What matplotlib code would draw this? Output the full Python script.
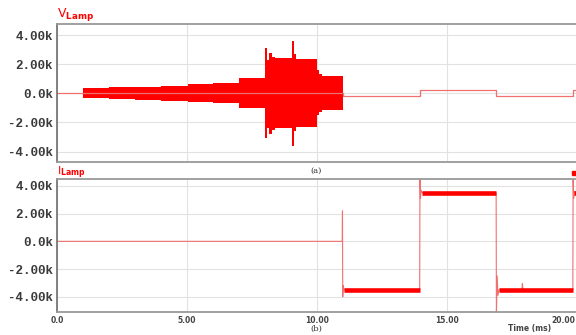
import numpy as np
import matplotlib
matplotlib.use('Agg')
from matplotlib import pyplot as plt
from matplotlib.lines import Line2D
from matplotlib.transforms import offset_copy

# lamp voltage (kV): envelope of the fast oscillation, step edges in ms
v_env_t = [1.0, 2.0, 3.0, 4.0, 5.05, 6.0, 7.0, 8.0, 8.07, 8.15, 8.25, 8.4, 9.02, 9.1, 9.2, 10.0, 10.08, 10.2, 11.0]
v_env_hi = [0.35, 0.4, 0.45, 0.5, 0.63, 0.7, 1.03, 3.1, 2.3, 2.8, 2.5, 2.4, 3.6, 2.7, 2.35, 1.6, 1.35, 1.2, 1.2]
v_env_lo = [-0.35, -0.4, -0.45, -0.5, -0.63, -0.7, -1.03, -3.1, -2.4, -2.8, -2.5, -2.4, -3.6, -2.6, -2.3, -1.5, -1.3, -1.15, -1.15]
# lamp voltage (kV): slow level outside the oscillating part
v_line_t = [0, 1.0, 11.0, 13.96, 16.9, 19.85, 20.05]
v_line_v = [0, 0, -0.2, 0.25, -0.2, 0.25, 0.25]

# lamp current (k): thin trace with edges and spikes
i_t = [0, 10.97, 10.98, 10.99, 11.01, 11.04, 13.95, 13.96, 13.98, 14.0, 14.05, 16.89, 16.9,
       16.93, 16.96, 17.0, 17.88, 17.9, 17.92, 19.84, 19.85, 19.87, 19.9, 20.05]
i_v = [0, 0, 2.2, -4.0, -3.2, -3.5, -3.5, 4.8, 3.1, 3.7, 3.5, 3.5, -5.3,
       -2.5, -3.9, -3.5, -3.5, -3.05, -3.5, -3.5, 4.6, 3.1, 3.6, 3.5]
# lamp current (k): thick ripple bands
band_t0 = [11.04, 14.05, 17.0, 19.9]
band_t1 = [13.95, 16.89, 19.84, 20.05]
band_v = [-3.5, 3.5, -3.5, 3.5]

y_ticks = [4, 2, 0, -2, -4]
y_labels = ['4.00k', '2.00k', '0.0k', '-2.00k', '-4.00k']
x_ticks = [0, 5, 10, 15, 20]
x_labels = ['0.0', '5.00', '10.00', '15.00', '20.00']

W, H = 576, 335


def rect(x0, y0, x1, y1):
    return [x0 / W, 1 - y1 / H, (x1 - x0) / W, (y1 - y0) / H]


def style(ax, ylim):
    ax.set_xlim(0, 20)
    ax.set_ylim(*ylim)
    ax.set_xticks(x_ticks)
    ax.set_yticks(y_ticks)
    ax.set_yticklabels(y_labels, family='Liberation Mono', fontweight='bold',
                       fontsize=9, color='#3a3a3a')
    ax.tick_params(length=0, pad=3)
    ax.grid(True, color='#e2e2e2', lw=0.8)
    ax.set_axisbelow(True)
    for s in ax.spines.values():
        s.set_color('#999999')
        s.set_linewidth(1.3)
    ax.spines['left'].set_color('#777777')


fig = plt.figure(figsize=(5.76, 3.35), dpi=100)
ax1 = fig.add_axes(rect(57, 24, 577, 162))
ax2 = fig.add_axes(rect(57, 179, 577, 312))

red = '#ff0000'
thin = '#f07070'

# voltage
ax1.plot(v_line_t, v_line_v, drawstyle='steps-post', color=thin, lw=0.9)
ax1.fill_between(v_env_t, v_env_lo, v_env_hi, step='post', color=red, lw=0)
style(ax1, (-4.72, 4.76))
ax1.set_xticklabels([])

# current
ax2.plot(i_t, i_v, color=thin, lw=0.8)
ax2.hlines(band_v, band_t0, band_t1, color=red, lw=3.3)
style(ax2, (-5.1, 4.5))
ax2.set_xticklabels(x_labels, fontsize=5.5, fontweight='bold', color='#444444')
ax2.tick_params(axis='x', pad=3)
last = ax2.get_xticklabels()[-1]
last.set_horizontalalignment('right')
last.set_transform(offset_copy(last.get_transform(), fig=fig, x=-2, y=0, units='dots'))

# labels
fig.text(57 / W, 1 - 15 / H, r'V$_{\mathbf{Lamp}}$', color=red, fontsize=9, va='center')
fig.text(57 / W, 1 - 173 / H, r'I$_{\mathbf{Lamp}}$', color=red, fontsize=8, va='center')
fig.text(316 / W, 1 - 171 / H, '(a)', fontsize=6, ha='center', va='center',
         family='DejaVu Serif', color='#333333')
fig.text(316 / W, 1 - 328.5 / H, '(b)', fontsize=6, ha='center', va='center',
         family='DejaVu Serif', color='#333333')
fig.text(530 / W, 1 - 328 / H, 'Time (ms)', fontsize=5.5, fontweight='bold',
         ha='center', va='center', color='#444444')
fig.add_artist(Line2D([574 / W], [1 - 173 / H], marker='s', ms=3, color=red,
                      transform=fig.transFigure))

fig.savefig('out.png', dpi=100)
